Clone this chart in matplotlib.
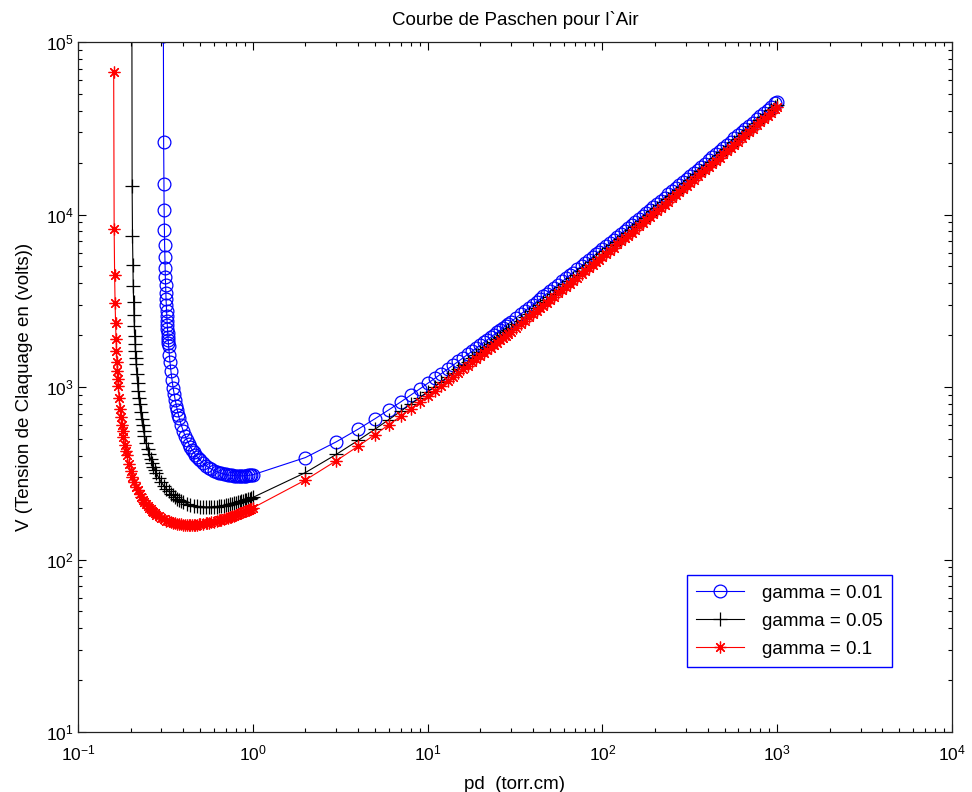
import matplotlib
matplotlib.use('Agg')
import matplotlib.pyplot as plt
from matplotlib.ticker import LogLocator, NullFormatter

plt.rcParams['font.family'] = ['Liberation Sans', 'DejaVu Sans']

# ---------------- data ----------------
# low pd branch, gamma = 0.01
blue_low_x = [0.308, 0.309, 0.310, 0.311, 0.312, 0.313, 0.314, 0.315, 0.316, 0.317,
              0.318, 0.319, 0.320, 0.321, 0.322, 0.323, 0.324, 0.325, 0.326, 0.327,
              0.328, 0.329, 0.330, 0.333, 0.336, 0.340, 0.345, 0.350, 0.355, 0.360,
              0.365, 0.370, 0.375, 0.380, 0.39, 0.40, 0.41, 0.42, 0.43, 0.44,
              0.45, 0.46, 0.47, 0.48, 0.49, 0.50, 0.52, 0.54, 0.56, 0.58,
              0.60, 0.62, 0.64, 0.66, 0.68, 0.70, 0.72, 0.74, 0.76, 0.78,
              0.80, 0.82, 0.84, 0.86, 0.88, 0.90, 0.92, 0.94, 0.96, 0.98]
blue_low_y = [107700, 26315, 15053, 10572, 8165, 6663, 5636, 4889, 4322, 3877,
              3518, 3222, 2975, 2764, 2583, 2426, 2288, 2166, 2057, 1960,
              1872, 1792, 1720, 1537, 1393, 1242, 1100, 991, 906, 837,
              780, 732, 692, 657, 600, 556, 521, 493, 469, 449,
              432, 418, 405, 394, 384, 376, 362, 350, 341, 334,
              328, 323, 319, 316, 313, 311, 309, 308, 307, 306,
              305.6, 305.3, 305.3, 305.4, 305.7, 306.1, 306.6, 307.2, 307.9, 308.8]

# low pd branch, gamma = 0.05
black_low_x = [0.203, 0.204, 0.205, 0.206, 0.207, 0.208, 0.209, 0.210, 0.211, 0.212,
               0.213, 0.214, 0.215, 0.217, 0.219, 0.221, 0.223, 0.225, 0.228, 0.231,
               0.234, 0.237, 0.240, 0.245, 0.250, 0.255, 0.260, 0.265, 0.270, 0.275,
               0.280, 0.29, 0.30, 0.31, 0.32, 0.33, 0.34, 0.35, 0.36, 0.37,
               0.38, 0.39, 0.40, 0.42, 0.44, 0.46, 0.48, 0.50, 0.52, 0.54,
               0.56, 0.58, 0.60, 0.62, 0.64, 0.66, 0.68, 0.70, 0.72, 0.74,
               0.76, 0.78, 0.80, 0.82, 0.84, 0.86, 0.88, 0.90, 0.92, 0.94,
               0.96, 0.98]
black_low_y = [471900, 14684, 7512, 5071, 3841, 3100, 2605, 2251, 1985, 1777,
               1612, 1476, 1363, 1185, 1052, 948, 865, 797, 716, 652,
               600, 558, 523, 475, 438, 408, 383, 363, 345, 331,
               318, 297, 280, 267, 257, 248, 241, 235, 229, 225,
               221, 218, 215, 211, 208, 205, 203.5, 202.4, 201.7, 201.4,
               201.4, 201.6, 202.1, 202.7, 203.4, 204.3, 205.3, 206.4, 207.5, 208.8,
               210.1, 211.5, 212.9, 214.4, 215.9, 217.4, 219.0, 220.6, 222.2, 223.8,
               225.5, 227.2]

# low pd branch, gamma = 0.1
red_low_x = [0.160, 0.161, 0.162, 0.163, 0.164, 0.165, 0.166, 0.167, 0.168, 0.169,
             0.170, 0.172, 0.174, 0.176, 0.178, 0.180, 0.182, 0.185, 0.188, 0.190,
             0.195, 0.200, 0.205, 0.210, 0.215, 0.220, 0.225, 0.230, 0.235, 0.240,
             0.245, 0.250, 0.255, 0.260, 0.265, 0.270, 0.275, 0.280, 0.290, 0.300,
             0.310, 0.320, 0.330, 0.340, 0.350, 0.360, 0.370, 0.380, 0.390, 0.400,
             0.410, 0.420, 0.430, 0.440, 0.450, 0.460, 0.470, 0.480, 0.490, 0.500,
             0.520, 0.540, 0.550, 0.560, 0.580, 0.600, 0.620, 0.640, 0.650, 0.660,
             0.680, 0.700, 0.720, 0.740, 0.750, 0.760, 0.780, 0.800, 0.820, 0.840,
             0.850, 0.860, 0.880, 0.900, 0.920, 0.940, 0.950, 0.960, 0.980]
red_low_y = [66590, 8268, 4446, 3058, 2341, 1903, 1608, 1395, 1235, 1109,
             1009, 857.7, 749.3, 667.9, 604.4, 553.7, 512.1, 462.3, 423.2, 401.5,
             358.2, 325.9, 300.9, 281.0, 264.8, 251.5, 240.3, 230.8, 222.6, 215.6,
             209.4, 204.1, 199.3, 195.1, 191.4, 188.0, 185.0, 182.3, 177.7, 174.0,
             170.9, 168.3, 166.2, 164.4, 163.0, 161.9, 160.9, 160.2, 159.6, 159.2,
             158.9, 158.7, 158.6, 158.6, 158.7, 158.9, 159.1, 159.4, 159.7, 160.0,
             160.9, 161.9, 162.5, 163.0, 164.3, 165.6, 167.0, 168.4, 169.1, 169.9,
             171.4, 173.0, 174.6, 176.3, 177.1, 177.9, 179.6, 181.3, 183.1, 184.8,
             185.7, 186.6, 188.3, 190.1, 191.9, 193.7, 194.6, 195.5, 197.3]

# high pd branch (shared pd values)
high_x = [1, 2, 3, 4, 5, 6, 7, 8, 9, 10, 11, 12, 13, 14, 15, 16, 17, 18, 19, 20,
          21, 22, 23, 24, 25, 26, 27, 28, 29, 30,
          32, 34, 36, 38, 40, 42, 44, 46, 48, 50, 53, 56, 59, 62, 65, 68,
          72, 76, 80, 84, 88, 92, 96, 100,
          105, 110, 116, 122, 128, 134, 140, 147, 154, 162, 170, 178, 187, 196,
          206, 216, 227, 238, 250, 262, 275, 289,
          303, 318, 334, 351, 368, 386, 405, 425, 446, 468, 491,
          516, 542, 569, 597, 627, 658, 691, 726, 762, 800, 840, 882, 926, 972, 1000]
blue_high_y = [309.7, 390.0, 480.8, 569.2, 654.6, 737.3, 817.7, 896.2, 973.1, 1048.5,
               1122.6, 1195.6, 1267.5, 1338.5, 1408.6, 1478.0, 1546.7, 1614.6, 1682.0, 1748.7,
               1815.0, 1880.7, 1945.9, 2010.7, 2075.0, 2138.9, 2202.5, 2265.6, 2328.4, 2390.9,
               2514.8, 2637.6, 2759.2, 2879.8, 2999.4, 3118.2, 3236.0, 3353.1, 3469.4, 3584.9,
               3757.0, 3927.7, 4096.9, 4265.1, 4432.0, 4597.8,
               4817.2, 5035.0, 5251.1, 5465.7, 5678.9, 5890.5, 6101.3, 6310.7,
               6570.8, 6829.2, 7137.2, 7443.1, 7747.0, 8049.0, 8349.2, 8697.3, 9043.3, 9436.2,
               9826.6, 10214.6, 10648.5, 11079.8,
               11556.1, 12029.3, 12546.8, 13061.3, 13619.1, 14173.6, 14770.7, 15410.2,
               16045.8, 16723.1, 17441.0, 18199.5, 18953.7, 19747.6, 20581.0, 21453.4,
               22364.2, 23313.1, 24300.1,
               25366.3, 26469.2, 27608.2, 28783.0, 30034.9, 31321.5, 32683.7, 34120.7,
               35590.8, 37134.4, 38750.8, 40439.0, 42198.2, 44028.0, 45137.2]
black_high_y = [228.9, 319.1, 406.6, 489.8, 569.6, 646.7, 721.6, 794.7, 866.3, 936.6,
                1005.6, 1073.6, 1140.7, 1207.0, 1272.4, 1337.2, 1401.3, 1464.9, 1527.8, 1590.3,
                1652.2, 1713.7, 1774.8, 1835.4, 1895.7, 1955.6, 2015.1, 2074.3, 2133.2, 2191.8,
                2308.1, 2423.3, 2537.5, 2650.8, 2763.3, 2874.9, 2985.7, 3095.9, 3205.3, 3314.1,
                3476.2, 3637.0, 3796.6, 3955.0, 4112.4, 4268.8,
                4476.0, 4681.5, 4885.5, 5088.3, 5289.8, 5490.1, 5689.2, 5887.2,
                6133.3, 6377.9, 6669.5, 6959.2, 7247.1, 7533.3, 7817.9, 8147.9, 8476.0, 8848.7,
                9219.2, 9587.5, 9999.5, 10409.1,
                10861.5, 11311.4, 11803.3, 12292.4, 12822.9, 13350.7, 13918.6, 14527.3,
                15132.4, 15777.3, 16461.2, 17184.1, 17902.7, 18659.6, 19454.3, 20286.3,
                21155.1, 22060.7, 23002.4,
                24020.5, 25073.6, 26161.5, 27283.7, 28480.0, 29709.7, 31011.9, 32386.0,
                33792.0, 35268.6, 36815.1, 38430.7, 40114.7, 41866.6, 42928.7]
red_high_y = [199.1, 288.9, 373.5, 453.5, 530.1, 604.1, 676.0, 746.2, 815.0, 882.5,
              948.9, 1014.3, 1078.8, 1142.5, 1205.5, 1267.9, 1329.6, 1390.8, 1451.5, 1511.6,
              1571.4, 1630.6, 1689.5, 1748.0, 1806.1, 1863.9, 1921.3, 1978.4, 2035.3, 2091.8,
              2204.1, 2315.4, 2425.7, 2535.2, 2643.8, 2751.7, 2858.8, 2965.3, 3071.2, 3176.4,
              3333.2, 3488.8, 3643.2, 3796.6, 3949.0, 4100.5,
              4301.1, 4500.2, 4698.0, 4894.4, 5089.7, 5283.8, 5476.9, 5668.9,
              5907.6, 6144.8, 6427.7, 6708.9, 6988.3, 7266.1, 7542.3, 7862.8, 8181.5, 8543.5,
              8903.4, 9261.3, 9661.6, 10059.7,
              10499.4, 10936.7, 11415.0, 11890.7, 12406.7, 12919.8, 13472.7, 14064.9,
              14653.9, 15281.4, 15947.2, 16650.9, 17350.6, 18087.6, 18861.6, 19672.0,
              20518.6, 21400.8, 22318.4,
              23310.7, 24337.1, 25397.6, 26491.8, 27658.2, 28857.4, 30127.4, 31467.7,
              32839.5, 34280.1, 35789.1, 37365.7, 39009.4, 40719.3, 41756.2]

labels = ['gamma = 0.01', 'gamma = 0.05', 'gamma = 0.1']

# ---------------- figure ----------------
fig = plt.figure(figsize=(9.72, 7.92), dpi=100)
ax = fig.add_axes([78 / 972, 1 - 732 / 792, 874 / 972, 690 / 792])

ax.plot(blue_low_x + high_x, blue_low_y + blue_high_y, color='#0000ff', lw=0.8,
        marker='o', ms=9.2, mfc='none', mec='#0000ff', mew=0.9, label=labels[0])
ax.plot(black_low_x + high_x, black_low_y + black_high_y, color='black', lw=0.8,
        marker='+', ms=10, mew=0.9, label=labels[1])
ax.plot(red_low_x + high_x, red_low_y + red_high_y, color='#ff0000', lw=0.8,
        marker=(8, 2, 0), ms=8.5, mew=0.9, label=labels[2])

ax.set_xscale('log')
ax.set_yscale('log')
ax.set_xlim(0.1, 1e4)
ax.set_ylim(10, 1e5)

for axis in (ax.xaxis, ax.yaxis):
    axis.set_major_locator(LogLocator(base=10, numticks=20))
    axis.set_minor_locator(LogLocator(base=10, subs=range(2, 10), numticks=20))
    axis.set_minor_formatter(NullFormatter())

ax.tick_params(which='both', direction='in', top=True, right=True,
               labelsize=12.5, colors='black')
ax.tick_params(which='major', length=6, width=0.8)
ax.tick_params(which='minor', length=3, width=0.8)
ax.tick_params(axis='x', which='major', pad=8)
ax.tick_params(axis='y', which='major', pad=3)
for s in ax.spines.values():
    s.set_linewidth(0.9)
    s.set_color('#222222')

ax.set_title('Courbe de Paschen pour l`Air', fontsize=13.5, pad=12)
ax.set_xlabel('pd  (torr.cm)', fontsize=13.5, labelpad=9)
ax.set_ylabel('V (Tension de Claquage en (volts))', fontsize=13.5, labelpad=9)

leg = ax.legend(loc='lower right', bbox_to_anchor=(0.931, 0.094), fontsize=13.5,
                numpoints=1, handlelength=2.55, handletextpad=0.95, labelspacing=0.58,
                borderpad=0.5, fancybox=False, framealpha=1, borderaxespad=0)
leg.get_frame().set_edgecolor('#0000ff')
leg.get_frame().set_linewidth(1.0)

fig.savefig('out.png', dpi=100)
